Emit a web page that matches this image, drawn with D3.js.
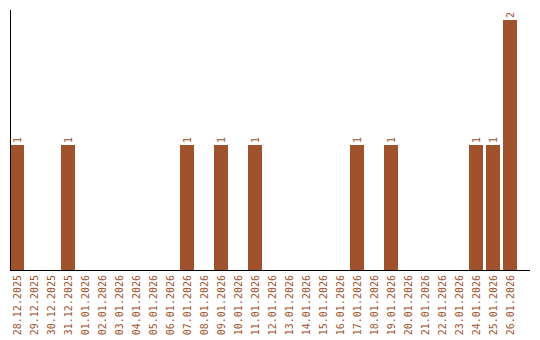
<!DOCTYPE html>
<html>
<head>
<meta charset="utf-8">
<script src="https://cdn.jsdelivr.net/npm/d3@7"></script>
<style>
  html, body { margin: 0; padding: 0; background: #fff; }
  svg text { font-family: "DejaVu Sans Mono", monospace; font-size: 10px; }
</style>
</head>
<body>
<div id="chart"></div>
<script>
const dates = [
  '28.12.2025', '29.12.2025', '30.12.2025', '31.12.2025', '01.01.2026', '02.01.2026',
  '03.01.2026', '04.01.2026', '05.01.2026', '06.01.2026', '07.01.2026', '08.01.2026',
  '09.01.2026', '10.01.2026', '11.01.2026', '12.01.2026', '13.01.2026', '14.01.2026',
  '15.01.2026', '16.01.2026', '17.01.2026', '18.01.2026', '19.01.2026', '20.01.2026',
  '21.01.2026', '22.01.2026', '23.01.2026', '24.01.2026', '25.01.2026', '26.01.2026'
];
const counts = [
  1, 0, 0, 1, 0, 0,
  0, 0, 0, 0, 1, 0,
  1, 0, 1, 0, 0, 0,
  0, 0, 1, 0, 1, 0,
  0, 0, 0, 1, 1, 2
];

const width = 540, height = 340;
const m = { top: 10, left: 10, bottom: 270, right: 530 };
const color = '#a0522d';

const svg = d3.select('#chart').append('svg')
  .attr('width', width).attr('height', height);

// 17px per day, 14px wide bars
const x = d3.scaleBand().domain(dates).range([m.left, m.left + (dates.length - 1) * 17 + 14])
  .paddingInner(3 / 17).paddingOuter(0);
const y = d3.scaleLinear().domain([0, 2]).range([m.bottom, 20]);

const data = dates.map((d, i) => ({ date: d, value: counts[i] }));

// bars
svg.append('g').selectAll('rect')
  .data(data.filter(d => d.value > 0))
  .join('rect')
  .attr('x', d => x(d.date))
  .attr('y', d => y(d.value))
  .attr('width', x.bandwidth())
  .attr('height', d => y(0) - y(d.value))
  .attr('fill', color);

// value labels
svg.append('g').selectAll('text')
  .data(data.filter(d => d.value > 0))
  .join('text')
  .attr('transform', d => `translate(${x(d.date) + x.bandwidth() / 2},${y(d.value) - 2}) rotate(-90)`)
  .attr('dy', '0.35em')
  .attr('fill', color)
  .text(d => d.value);

// axes lines
svg.append('line').attr('x1', m.left + 0.5).attr('x2', m.left + 0.5)
  .attr('y1', m.top).attr('y2', m.bottom).attr('stroke', '#000');
svg.append('line').attr('x1', m.left).attr('x2', m.right)
  .attr('y1', m.bottom + 0.5).attr('y2', m.bottom + 0.5).attr('stroke', '#000');

// date labels
svg.append('g').selectAll('text')
  .data(dates)
  .join('text')
  .attr('transform', d => `translate(${x(d) + x.bandwidth() / 2},${m.bottom + 5}) rotate(-90)`)
  .attr('text-anchor', 'end')
  .attr('dy', '0.35em')
  .attr('fill', color)
  .text(d => d);
</script>
</body>
</html>
